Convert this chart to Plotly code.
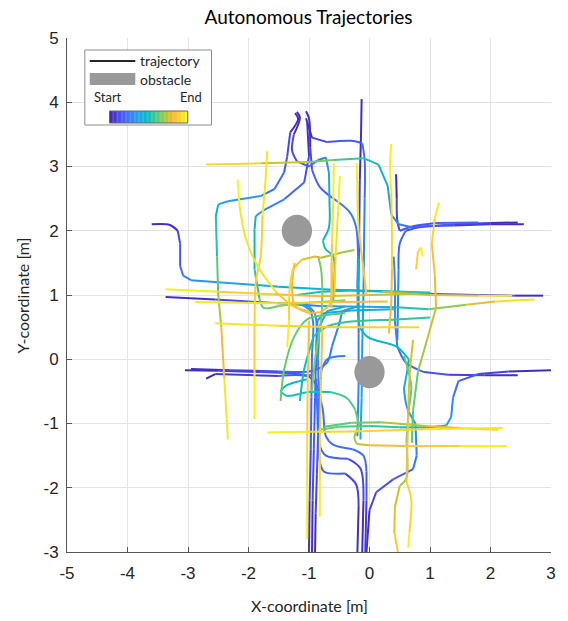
import plotly.graph_objects as go

# ---------------- data (x [m], y [m], normalised time) ----------------
t01 = [(-3.6,2.1,0.0),(-3.3,2.09,0.04),(-3.17,2.0,0.08),(-3.13,1.8,0.13),(-3.13,1.45,0.19),(-3.08,1.3,0.25),(-2.95,1.23,0.3),(-2.5,1.2,0.35),(-1.5,1.13,0.41),(-0.6,1.08,0.45),(0.3,1.06,0.5),(1.0,1.04,0.55)]
t02 = [(-3.37,0.97,0.0),(-2.55,0.93,0.07),(-2.0,0.9,0.14),(-1.3,0.86,0.22),(-0.82,0.83,0.31),(0.44,0.81,0.45),(0.98,0.78,0.6),(1.6,0.85,0.75),(2.08,0.9,0.85),(2.73,0.93,1.0)]
t03 = [(0.8,1.02,0.72),(0.0,1.0,0.76),(-0.8,0.98,0.8),(-1.6,1.01,0.86),(-2.5,1.05,0.93),(-3.37,1.09,1.0)]
t04 = [(0.3,0.9,0.8),(-0.5,0.89,0.84),(-1.5,0.87,0.9),(-2.88,0.89,1.0)]
t05 = [(0.82,0.5,0.95),(0.3,0.5,0.88),(-0.5,0.5,0.85),(-1.5,0.52,0.9),(-2.55,0.56,1.0)]
t06 = [(-3.05,-0.17,0.0),(-2.5,-0.18,0.05),(-1.8,-0.2,0.12),(-1.2,-0.22,0.17),(-0.95,-0.24,0.2),(-0.88,-0.1,0.22),(-0.87,0.4,0.27),(-0.9,0.7,0.31),(-1.0,0.82,0.34),(-1.3,0.88,0.37)]
t07 = [(-2.95,-0.15,0.0),(-2.3,-0.17,0.06),(-1.5,-0.19,0.13),(-1.0,-0.19,0.17),(-0.85,-0.15,0.2),(-0.7,-0.05,0.23),(-0.62,0.2,0.26),(-0.5,0.55,0.3),(-0.45,0.75,0.34),(-0.2,0.82,0.4)]
t08 = [(-2.7,-0.3,0.0),(-2.55,-0.23,0.03),(-1.5,-0.26,0.11),(-1.0,-0.27,0.15),(-0.85,-0.45,0.18),(-0.77,-0.8,0.2),(-0.72,-1.2,0.22),(-0.6,-1.33,0.23),(-0.28,-1.4,0.24),(-0.1,-1.5,0.22),(-0.05,-1.75,0.18),(-0.05,-2.2,0.12),(-0.07,-3.0,0.03)]
t09 = [(-0.13,4.05,0.0),(-0.14,3.5,0.04),(-0.16,2.8,0.08),(-0.17,2.0,0.12),(-0.18,1.2,0.17),(-0.18,0.4,0.23),(-0.18,-0.4,0.28),(-0.2,-1.2,0.33)]
t10 = [(-1.05,3.86,0.0),(-1.0,3.75,0.03),(-0.98,3.3,0.08),(-0.95,2.95,0.13),(-0.82,2.68,0.17),(-0.55,2.47,0.21),(-0.32,2.28,0.24),(-0.22,2.05,0.26),(-0.19,1.6,0.28),(-0.2,1.1,0.3)]
t11 = [(-1.2,3.85,0.0),(-1.15,3.76,0.03),(-1.25,3.5,0.07),(-1.28,3.25,0.11),(-1.2,3.08,0.15),(-1.0,3.0,0.19),(-0.85,3.1,0.24),(-0.72,3.14,0.29),(-0.67,2.9,0.34),(-0.66,2.4,0.41),(-0.67,2.05,0.45),(-0.77,1.85,0.48),(-0.73,1.72,0.5),(-0.6,1.6,0.52),(-0.58,1.3,0.55),(-0.6,0.9,0.58)]
t12 = [(-1.23,3.83,0.0),(-1.18,3.74,0.03),(-1.31,3.53,0.08),(-1.36,3.16,0.13),(-1.41,2.91,0.18),(-1.57,2.65,0.24),(-1.8,2.54,0.3),(-2.34,2.46,0.38),(-2.5,2.41,0.43),(-2.54,2.23,0.48),(-2.52,1.6,0.58),(-2.5,1.0,0.66),(-2.45,0.5,0.76),(-2.4,-0.3,0.88),(-2.34,-1.25,1.0)]
t13 = [(-1.03,3.69,0.0),(-1.0,3.16,0.09),(-1.08,2.75,0.16),(-1.41,2.49,0.24),(-1.73,2.33,0.31),(-1.88,2.23,0.35),(-1.9,2.02,0.4),(-1.9,1.4,0.52),(-1.82,0.95,0.6),(-1.75,0.8,0.63),(-1.5,0.83,0.66),(-1.0,0.88,0.68),(-0.4,0.92,0.7)]
t14 = [(2.45,2.13,0.0),(2.0,2.12,0.06),(1.4,2.1,0.12),(0.72,2.05,0.21),(0.48,2.1,0.27),(0.36,2.25,0.32),(0.3,2.7,0.4),(0.15,3.03,0.47),(-0.1,3.13,0.53),(-0.6,3.1,0.62),(-1.0,3.07,0.7),(-1.8,3.05,0.82),(-2.7,3.03,1.0)]
t15 = [(2.55,2.1,0.0),(2.0,2.1,0.05),(1.4,2.08,0.1),(0.85,2.06,0.15),(0.6,2.0,0.18),(0.5,1.8,0.2),(0.48,1.4,0.23),(0.47,0.8,0.27),(0.46,0.3,0.3)]
t16 = [(2.45,-0.25,0.0),(1.9,-0.25,0.06),(1.3,-0.24,0.12),(0.9,-0.2,0.17),(0.6,-0.05,0.21),(0.46,0.2,0.24),(0.42,0.6,0.28),(0.42,1.2,0.32),(0.4,1.6,0.35)]
t17 = [(0.44,2.88,0.0),(0.45,2.5,0.04),(0.46,2.15,0.09),(0.5,2.0,0.12),(0.72,2.07,0.15),(1.1,2.12,0.18),(1.8,2.13,0.21)]
t18 = [(2.87,0.99,0.0),(2.4,0.99,0.07),(1.8,1.0,0.17),(1.0,1.02,0.28),(0.3,1.05,0.38),(-0.3,1.07,0.45),(-0.8,1.05,0.5),(-1.2,1.0,0.54)]
t19 = [(3.0,-0.17,0.0),(2.3,-0.19,0.06),(1.8,-0.23,0.13),(1.47,-0.34,0.19),(1.38,-0.6,0.26),(1.35,-0.9,0.34),(1.27,-1.03,0.4),(1.0,-1.06,0.46),(0.5,-1.06,0.52),(0.0,-1.04,0.57),(-0.5,-1.05,0.62),(-0.85,-1.1,0.65)]
t20 = [(-1.69,-1.14,1.0),(-1.0,-1.13,0.93),(-0.16,-1.12,0.88),(0.93,-1.09,0.9),(2.2,-1.07,1.0)]
t21 = [(-0.75,-1.05,0.6),(-0.3,-0.99,0.64),(0.2,-0.98,0.68),(0.93,-1.04,0.76),(1.5,-1.07,0.86),(2.13,-1.1,1.0)]
t22 = [(2.27,-1.35,1.0),(1.5,-1.35,0.93),(0.6,-1.35,0.85),(0.0,-1.34,0.78),(-0.21,-1.32,0.74),(-0.25,-1.22,0.7),(-0.17,-1.04,0.66),(-0.23,-0.8,0.62),(-0.38,-0.6,0.58),(-0.65,-0.51,0.55),(-1.0,-0.51,0.52),(-1.36,-0.57,0.5),(-1.47,-0.5,0.48),(-1.38,-0.41,0.46),(-1.03,-0.31,0.44)]
t23 = [(-1.0,-3.0,0.0),(-0.99,-2.2,0.08),(-0.97,-1.4,0.15),(-0.96,-0.6,0.2),(-0.95,0.1,0.24),(-0.93,0.55,0.28),(-0.97,0.75,0.31),(-1.1,0.84,0.34),(-1.3,0.88,0.37)]
t24 = [(-0.95,-3.0,0.0),(-0.94,-2.2,0.08),(-0.92,-1.4,0.15),(-0.9,-0.6,0.2),(-0.88,0.2,0.25),(-0.86,0.6,0.3),(-0.75,0.72,0.34),(-0.3,0.76,0.4),(0.4,0.78,0.46)]
t25 = [(-0.9,-3.0,0.0),(-0.89,-2.4,0.06),(-0.87,-1.8,0.11),(-0.85,-1.2,0.16),(-0.82,-0.6,0.2),(-0.8,-0.2,0.23),(-0.7,0.0,0.26),(-0.4,0.05,0.3)]
t26 = [(-0.2,-3.0,0.0),(-0.18,-2.3,0.06),(-0.22,-1.95,0.1),(-0.4,-1.78,0.13),(-0.75,-1.75,0.16),(-0.82,-1.6,0.18),(-0.83,-1.2,0.21),(-0.84,-0.6,0.25),(-0.85,0.0,0.3),(-0.83,0.5,0.35),(-0.7,0.75,0.39),(-0.4,0.82,0.43)]
t27 = [(-0.12,-3.0,0.0),(-0.1,-2.2,0.07),(-0.15,-1.7,0.11),(-0.35,-1.55,0.14),(-0.72,-1.5,0.17),(-0.82,-1.35,0.19),(-0.86,-0.9,0.22),(-0.88,-0.3,0.26)]
t28 = [(-0.05,-3.0,0.0),(0.0,-2.35,0.06),(0.11,-2.07,0.11),(0.39,-1.87,0.16),(0.72,-1.71,0.21),(0.78,-1.5,0.25),(0.76,-1.0,0.32),(0.62,-0.75,0.36),(0.57,-0.45,0.38),(0.62,-0.2,0.41),(0.65,0.0,0.43),(0.44,0.2,0.46),(-0.02,0.34,0.49),(-0.16,0.51,0.5),(-0.18,1.56,0.5)]
t29 = [(-1.69,3.24,1.0),(-1.73,2.65,0.95),(-1.77,2.23,0.92),(-1.8,1.6,0.88),(-1.88,1.2,0.86),(-1.9,0.5,0.88),(-1.9,-0.2,0.93),(-1.9,-0.93,1.0)]
t30 = [(-1.36,0.19,1.0),(-1.33,0.6,0.95),(-1.32,1.1,0.9),(-1.27,1.4,0.87),(-1.12,1.55,0.83),(-0.9,1.6,0.78),(-0.8,1.58,0.74),(-0.5,1.65,0.7),(-0.25,1.7,0.68)]
t31 = [(-0.85,1.6,0.64),(-0.8,1.4,0.65),(-0.78,1.0,0.66),(-0.8,0.6,0.67),(-0.85,0.3,0.68),(-0.9,0.0,0.68),(-0.95,-0.5,0.67)]
t32 = [(-1.0,0.75,0.85),(-1.25,0.82,0.87),(-1.55,1.05,0.9),(-1.85,1.45,0.93),(-2.05,1.9,0.96),(-2.15,2.4,0.98),(-2.18,2.8,1.0)]
t33 = [(0.57,0.05,0.6),(0.69,-0.42,0.62),(0.65,-0.78,0.64),(0.61,-1.3,0.67),(0.61,-1.85,0.7),(0.5,-1.97,0.74),(0.42,-2.3,0.78),(0.41,-2.7,0.84),(0.47,-3.0,0.88)]
t34 = [(0.72,0.3,0.75),(0.66,-0.3,0.78),(0.64,-0.9,0.82),(0.61,-1.91,0.87),(0.69,-2.18,0.9),(0.66,-2.69,0.95),(0.64,-2.93,1.0)]
t35 = [(-1.0,0.6,0.82),(-1.02,-0.3,0.86),(-1.03,-1.2,0.9),(-1.03,-2.0,0.95),(-1.03,-2.8,1.0)]
t36 = [(-0.78,0.5,0.82),(-0.8,-0.3,0.86),(-0.82,-1.2,0.9),(-0.82,-1.9,0.95),(-0.82,-2.45,1.0)]
t37 = [(0.36,3.35,1.0),(0.34,3.05,0.98),(0.36,2.6,0.94),(0.37,2.0,0.9),(0.37,1.4,0.86),(0.36,0.9,0.83),(0.32,0.4,0.8)]
t38 = [(-0.59,3.05,1.0),(-0.6,2.4,0.95),(-0.62,1.8,0.9),(-0.63,1.2,0.86),(-0.63,0.8,0.84)]
t39 = [(-0.49,2.85,1.0),(-0.52,2.3,0.95),(-0.56,1.6,0.9),(-0.58,1.0,0.86)]
t40 = [(-0.21,3.05,1.0),(-0.2,2.5,0.95),(-0.18,2.0,0.9),(-0.1,1.4,0.86),(-0.05,1.0,0.84)]
t41 = [(-1.05,3.75,0.0),(-0.95,3.45,0.06),(-0.7,3.38,0.11),(-0.3,3.4,0.15),(-0.12,3.36,0.18),(-0.08,3.1,0.21),(-0.08,2.5,0.24),(-0.09,1.8,0.28),(-0.1,1.0,0.31),(-0.12,0.2,0.35),(-0.13,-0.6,0.38),(-0.15,-1.25,0.4)]
t42 = [(0.2,1.05,0.7),(1.0,1.0,0.78),(1.8,0.99,0.88),(2.36,0.99,1.0)]
t43 = [(-1.24,1.5,0.85),(-1.28,1.1,0.83),(-1.24,0.85,0.81),(-1.03,0.73,0.8),(-0.82,0.73,0.8),(-0.66,0.85,0.81),(-0.62,1.1,0.83),(-0.63,1.5,0.85)]
t44 = [(-1.15,-0.65,0.46),(-1.08,-0.16,0.49),(-0.92,0.36,0.52),(-0.7,0.51,0.54),(-0.38,0.58,0.56),(0.44,0.62,0.58),(1.0,0.65,0.6)]
t45 = [(-1.47,-0.65,0.66),(-1.41,-0.16,0.64),(-1.24,0.36,0.62),(-1.03,0.62,0.61),(-0.8,0.68,0.61),(-0.4,0.72,0.62)]
t46 = [(0.77,1.4,0.85),(0.8,1.67,0.9),(0.85,1.74,0.95),(0.88,1.6,1.0)]
t47 = [(0.7,-1.3,0.58),(0.72,-0.8,0.62),(0.8,-0.2,0.67),(0.95,0.3,0.72),(1.1,0.8,0.78),(1.08,1.3,0.82),(1.03,1.8,0.88),(1.08,2.2,0.95),(1.15,2.44,1.0)]

trajectories = [t01,t02,t03,t04,t05,t06,t07,t08,t09,t10,t11,t12,t13,t14,t15,t16,t17,t18,t19,t20,
                t21,t22,t23,t24,t25,t26,t27,t28,t29,t30,t31,t32,t33,t34,t35,t36,t37,t38,t39,t40,
                t41,t42,t43,t44,t45,t46,t47]

obstacle_x = [-1.2, 0.0]
obstacle_y = [2.0, -0.2]
obstacle_r = [0.25, 0.25]

x_ticks = [-5, -4, -3, -2, -1, 0, 1, 2, 3]
y_ticks = [-3, -2, -1, 0, 1, 2, 3, 4, 5]

# ---------------- parula colormap (MATLAB 64-entry table, sampled) ----------------
PARULA = [
    (0 / 63, (0.2422, 0.1504, 0.6603)),
    (3 / 63, (0.2647, 0.1978, 0.7952)),
    (7 / 63, (0.2803, 0.2782, 0.9221)),
    (10 / 63, (0.2795, 0.3447, 0.9717)),
    (14 / 63, (0.2440, 0.4358, 0.9988)),
    (17 / 63, (0.1834, 0.5074, 0.9798)),
    (21 / 63, (0.1540, 0.5902, 0.9218)),
    (24 / 63, (0.1248, 0.6459, 0.8883)),
    (28 / 63, (0.0297, 0.7082, 0.8163)),
    (31 / 63, (0.0433, 0.7411, 0.7394)),
    (35 / 63, (0.1938, 0.7758, 0.6251)),
    (38 / 63, (0.2906, 0.7973, 0.5188)),
    (42 / 63, (0.5044, 0.7993, 0.3480)),
    (45 / 63, (0.6720, 0.7793, 0.2227)),
    (49 / 63, (0.8634, 0.7406, 0.1596)),
    (52 / 63, (0.9728, 0.7298, 0.2394)),
    (56 / 63, (0.9892, 0.8136, 0.1885)),
    (59 / 63, (0.9610, 0.8890, 0.1537)),
    (63 / 63, (0.9769, 0.9839, 0.0805)),
]

def parula(t):
    t = min(max(t, 0.0), 1.0)
    for (a, ca), (b, cb) in zip(PARULA[:-1], PARULA[1:]):
        if t <= b + 1e-12:
            f = (t - a) / (b - a)
            c = [round(255 * (ca[i] + f * (cb[i] - ca[i]))) for i in range(3)]
            return "rgb(%d,%d,%d)" % tuple(c)
    c = PARULA[-1][1]
    return "rgb(%d,%d,%d)" % tuple(round(255 * v) for v in c)

# split each trajectory into runs of similar time; colour each run by its mean time
NB = 48
MAX_DT = 0.08
MAX_SEG = 4
bins = {b: ([], []) for b in range(NB)}
for tr in trajectories:
    i = 0
    n = len(tr)
    while i < n - 1:
        j = i + 1
        while (j + 1 < n and j - i < MAX_SEG and
               max(p[2] for p in tr[i:j + 2]) - min(p[2] for p in tr[i:j + 2]) <= MAX_DT):
            j += 1
        run = tr[i:j + 1]
        tm = sum(p[2] for p in run) / len(run)
        b = min(int(tm * NB), NB - 1)
        xs, ys = bins[b]
        xs.extend([None] + [p[0] for p in run])
        ys.extend([None] + [p[1] for p in run])
        i = j

fig = go.Figure()
for b in range(NB):
    xs, ys = bins[b]
    if not xs:
        continue
    fig.add_trace(go.Scatter(x=xs, y=ys, mode="lines", hoverinfo="skip", showlegend=False,
                             line=dict(color=parula((b + 0.5) / NB), width=2, shape="spline", smoothing=0.9)))

shapes = []
for cx, cy, r in zip(obstacle_x, obstacle_y, obstacle_r):
    shapes.append(dict(type="circle", xref="x", yref="y", x0=cx - r, x1=cx + r, y0=cy - r, y1=cy + r,
                       fillcolor="#999999", line=dict(width=0), layer="above"))

# ---------------- legend box (pixel layout -> paper) ----------------
W, H = 568, 621
L, R, T, B = 67, 12, 38, 69
PW, PH = W - L - R, H - T - B
def px(x): return (x - L) / PW
def py(y): return (H - B - y) / PH

shapes.append(dict(type="rect", xref="paper", yref="paper", x0=px(85), x1=px(213), y0=py(125), y1=py(50),
                   fillcolor="white", line=dict(color="#8c8c8c", width=1), layer="above"))
shapes.append(dict(type="line", xref="paper", yref="paper", x0=px(90), x1=px(136), y0=py(61), y1=py(61),
                   line=dict(color="#262626", width=2), layer="above"))
shapes.append(dict(type="rect", xref="paper", yref="paper", x0=px(90), x1=px(136), y0=py(85), y1=py(73),
                   fillcolor="#999999", line=dict(width=0), layer="above"))
NCB = 60
cb_x0, cb_x1 = 110, 189
for i in range(NCB):
    xa = cb_x0 + (cb_x1 - cb_x0) * i / NCB
    xb = cb_x0 + (cb_x1 - cb_x0) * (i + 1) / NCB
    shapes.append(dict(type="rect", xref="paper", yref="paper", x0=px(xa), x1=px(xb) + 0.0005,
                       y0=py(123), y1=py(111), fillcolor=parula((i + 0.5) / NCB), line=dict(width=0), layer="above"))
shapes.append(dict(type="rect", xref="paper", yref="paper", x0=px(cb_x0), x1=px(cb_x1), y0=py(123), y1=py(111),
                   line=dict(color="#666666", width=1), layer="above"))

LF = "Lato, 'Open Sans', sans-serif"
annotations = [
    dict(text="trajectory", x=px(139), y=py(61), xref="paper", yref="paper", xanchor="left", yanchor="middle",
         showarrow=False, font=dict(family=LF, size=14, color="#262626")),
    dict(text="obstacle", x=px(139), y=py(79), xref="paper", yref="paper", xanchor="left", yanchor="middle",
         showarrow=False, font=dict(family=LF, size=14, color="#262626")),
    dict(text="Start", x=px(92), y=py(97), xref="paper", yref="paper", xanchor="left", yanchor="middle",
         showarrow=False, font=dict(family=LF, size=13, color="#262626")),
    dict(text="End", x=px(205), y=py(97), xref="paper", yref="paper", xanchor="right", yanchor="middle",
         showarrow=False, font=dict(family=LF, size=13, color="#262626")),
    dict(text="X-coordinate [m]", x=px(312), y=py(605), xref="paper", yref="paper", xanchor="center",
         yanchor="middle", showarrow=False, font=dict(family=LF, size=16, color="#262626")),
    dict(text="Y-coordinate [m]", x=px(22), y=py(295), xref="paper", yref="paper", xanchor="center",
         yanchor="middle", textangle=-90, showarrow=False, font=dict(family=LF, size=16, color="#262626")),
]

axis_common = dict(showgrid=True, gridcolor="#e3e3e3", gridwidth=1, zeroline=False, showline=True,
                   linecolor="#555555", linewidth=1, ticks="inside", ticklen=5, tickcolor="#555555",
                   tickfont=dict(family="Liberation Sans, Arial, sans-serif", size=17, color="#262626"),
                   mirror=False)

fig.update_layout(
    width=W, height=H, autosize=False,
    margin=dict(l=L, r=R, t=T, b=B, pad=0),
    paper_bgcolor="white", plot_bgcolor="white",
    title=dict(text="Autonomous Trajectories", x=px(311), xref="paper", xanchor="center",
               y=1 - 17 / H, yref="container", yanchor="middle",
               font=dict(family=LF, size=19, color="#000000")),
    xaxis=dict(range=[-5, 3], tickvals=x_ticks, ticktext=[str(v) for v in x_ticks], ticklabelstandoff=6, **axis_common),
    yaxis=dict(range=[-3, 5], tickvals=y_ticks, ticktext=[str(v) for v in y_ticks], ticklabelstandoff=4, **axis_common),
    shapes=shapes, annotations=annotations, showlegend=False,
)

fig.write_html("out.html")
